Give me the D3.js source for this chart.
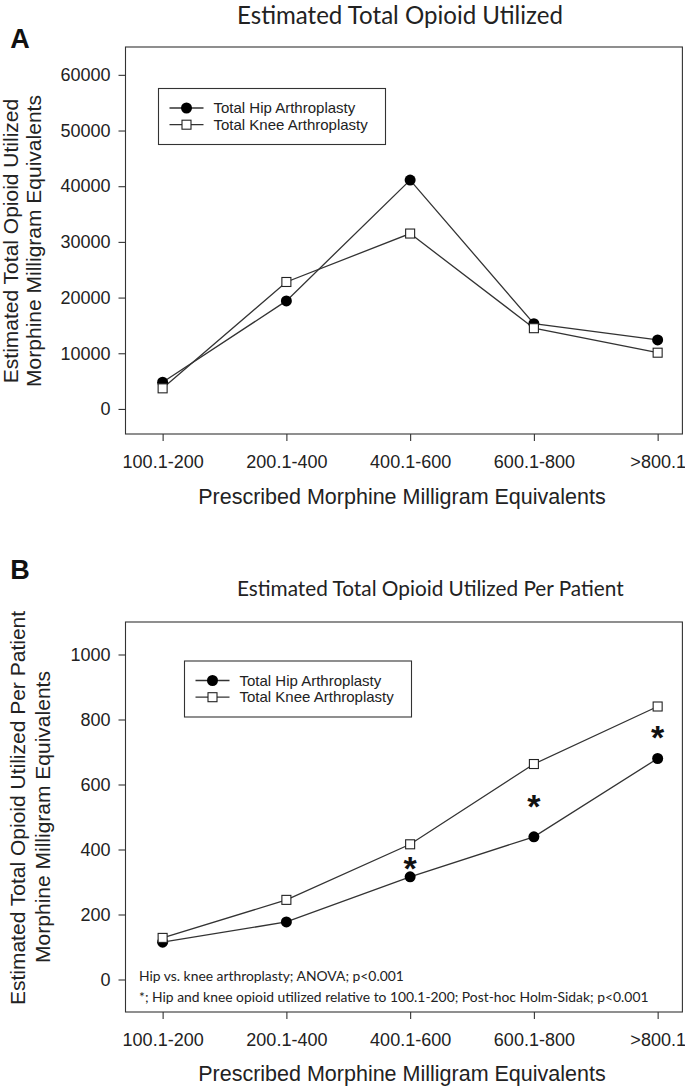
<!DOCTYPE html>
<html>
<head>
<meta charset="utf-8">
<script src="https://cdn.jsdelivr.net/npm/d3@7"></script>
<style>
  html, body { margin: 0; padding: 0; background: #fff; }
  svg { display: block; }
</style>
</head>
<body>
<svg id="chart" width="685" height="1086"></svg>
<script>
// ---------------- data ----------------
const categories = ["100.1-200", "200.1-400", "400.1-600", "600.1-800", ">800.1"];
const seriesNames = ["Total Hip Arthroplasty", "Total Knee Arthroplasty"];

const hipTotal  = [4800, 19400, 41100, 15300, 12400];
const kneeTotal = [3700, 22800, 31500, 14500, 10100];
const totalTicks = [0, 10000, 20000, 30000, 40000, 50000, 60000];

const hipPerPatient  = [115, 177, 316, 439, 680];
const kneePerPatient = [128, 245, 416, 663, 840];
const perPatientTicks = [0, 200, 400, 600, 800, 1000];
const asteriskLevels = [null, null, 362, 552, 765];

const panelTitles = ["Estimated Total Opioid Utilized", "Estimated Total Opioid Utilized Per Patient"];
const yTitlesA = ["Estimated Total Opioid Utilized", "Morphine Milligram Equivalents"];
const yTitlesB = ["Estimated Total Opioid Utilized Per Patient", "Morphine Milligram Equivalents"];
const xTitle = "Prescribed Morphine Milligram Equivalents";
const notes = ["Hip vs. knee arthroplasty; ANOVA; p<0.001",
               "*; Hip and knee opioid utilized relative to 100.1-200; Post-hoc Holm-Sidak; p<0.001"];

// ---------------- drawing ----------------
const svg = d3.select("#chart");
const SANS = "'Liberation Sans', Arial, sans-serif";
const CAL = "Lato, 'Open Sans', sans-serif";
const INK = "#222";
const LINE = "#333";

function fitFont(sel, target, start) {
  sel.attr("font-size", start);
  const w = sel.node().getComputedTextLength();
  sel.attr("font-size", start * target / w);
}

function drawPanel(cfg) {
  const g = svg.append("g");
  const left = 125.5, right = 682.4;
  const x = d3.scaleLinear().domain([-0.3, 4.2]).range([left, right]);
  const y = d3.scaleLinear().domain(cfg.yDomain).range([cfg.bottom, cfg.top]);

  // frame
  g.append("rect").attr("x", left).attr("y", cfg.top)
    .attr("width", right - left).attr("height", cfg.bottom - cfg.top)
    .attr("fill", "none").attr("stroke", LINE).attr("stroke-width", 1.1);

  // y axis
  const ya = g.append("g").attr("transform", `translate(${left},0)`)
    .call(d3.axisLeft(y).tickValues(cfg.yTicks).tickSize(7).tickPadding(8).tickFormat(d3.format("d")));
  ya.select(".domain").remove();
  ya.selectAll("line").attr("stroke", LINE).attr("stroke-width", 1.1);
  ya.selectAll("text").attr("font-family", SANS).attr("font-size", 18).attr("fill", INK);

  // x axis
  const xa = g.append("g").attr("transform", `translate(0,${cfg.bottom})`)
    .call(d3.axisBottom(x).tickValues(d3.range(categories.length)).tickSize(7).tickPadding(14)
      .tickFormat(i => categories[i]));
  xa.select(".domain").remove();
  xa.selectAll("line").attr("stroke", LINE).attr("stroke-width", 1.1);
  xa.selectAll("text").attr("font-family", SANS).attr("font-size", 18).attr("fill", INK);

  // x title
  g.append("text").attr("x", (left + right) / 2 - 2).attr("y", cfg.bottom + cfg.xTitleOff)
    .attr("dy", "0.36em").attr("text-anchor", "middle")
    .attr("font-family", SANS).attr("font-size", 21.5).attr("fill", INK).text(xTitle);

  // y titles (two lines)
  cfg.yTitles.forEach((t, i) => {
    g.append("text")
      .attr("transform", `translate(${cfg.yTitleX[i]},${cfg.yTitleY[i]}) rotate(-90)`)
      .attr("text-anchor", "middle")
      .attr("font-family", SANS).attr("font-size", 21).attr("fill", INK).text(t);
  });

  // panel title
  const tt = g.append("text").attr("x", 237).attr("y", cfg.titleY).attr("dy", "0.35em")
    .attr("font-family", CAL).attr("fill", INK).text(cfg.title);
  fitFont(tt, cfg.titleWidth, 22);

  // panel letter
  g.append("text").attr("x", 20).attr("y", cfg.letterY).attr("dy", "0.36em")
    .attr("text-anchor", "middle").attr("font-family", SANS).attr("font-weight", "bold")
    .attr("font-size", 27).attr("fill", "#111").text(cfg.letter);

  // lines
  const line = d3.line().x((d, i) => x(i)).y(d => y(d));
  [cfg.hip, cfg.knee].forEach(vals => {
    g.append("path").datum(vals).attr("d", line)
      .attr("fill", "none").attr("stroke", LINE).attr("stroke-width", 1.3);
  });
  // hip markers
  g.selectAll(null).data(cfg.hip).join("circle")
    .attr("cx", (d, i) => x(i)).attr("cy", d => y(d)).attr("r", 5.5).attr("fill", "#000");
  // knee markers
  const s = 9;
  g.selectAll(null).data(cfg.knee).join("rect")
    .attr("x", (d, i) => x(i) - s / 2).attr("y", d => y(d) - s / 2)
    .attr("width", s).attr("height", s)
    .attr("fill", "#fff").attr("stroke", "#222").attr("stroke-width", 1.1);

  // legend
  const lg = g.append("g").attr("transform", `translate(${cfg.legend[0]},${cfg.legend[1]})`);
  lg.append("rect").attr("width", 227).attr("height", 56)
    .attr("fill", "#fff").attr("stroke", LINE).attr("stroke-width", 1.1);
  seriesNames.forEach((name, i) => {
    const ry = 19.5 + i * 16.7;
    lg.append("line").attr("x1", 11).attr("x2", 45).attr("y1", ry).attr("y2", ry)
      .attr("stroke", LINE).attr("stroke-width", 1.3);
    if (i === 0) {
      lg.append("circle").attr("cx", 28).attr("cy", ry).attr("r", 5.5).attr("fill", "#000");
    } else {
      lg.append("rect").attr("x", 28 - s / 2).attr("y", ry - s / 2).attr("width", s).attr("height", s)
        .attr("fill", "#fff").attr("stroke", "#222").attr("stroke-width", 1.1);
    }
    lg.append("text").attr("x", 55).attr("y", ry).attr("dy", "0.35em")
      .attr("font-family", SANS).attr("font-size", 15).attr("fill", INK).text(name);
  });

  return { g, x, y };
}

// Panel A
drawPanel({
  top: 47, bottom: 434, yDomain: [-4500, 65000], yTicks: totalTicks,
  hip: hipTotal, knee: kneeTotal, legend: [158.5, 88.5],
  title: panelTitles[0], titleY: 16, titleWidth: 326,
  letter: "A", letterY: 38, xTitleOff: 62,
  yTitles: yTitlesA, yTitleX: [18, 41], yTitleY: [241, 241]
});

// Panel B
const pB = drawPanel({
  top: 622, bottom: 1012, yDomain: [-100, 1100], yTicks: perPatientTicks,
  hip: hipPerPatient, knee: kneePerPatient, legend: [184.5, 661],
  title: panelTitles[1], titleY: 589, titleWidth: 387,
  letter: "B", letterY: 569, xTitleOff: 61,
  yTitles: yTitlesB, yTitleX: [25, 50], yTitleY: [808, 817]
});

// asterisks
pB.g.selectAll(null).data(asteriskLevels.map((v, i) => ({ v, i })).filter(d => d.v !== null))
  .join("text")
  .attr("x", d => pB.x(d.i)).attr("y", d => pB.y(d.v) + 18)
  .attr("text-anchor", "middle").attr("font-family", SANS).attr("font-weight", "bold")
  .attr("font-size", 34).attr("fill", "#111").text("*");

// statistical notes
const n1 = pB.g.append("text").attr("x", 139).attr("y", 976).attr("dy", "0.35em")
  .attr("font-family", CAL).attr("fill", INK).text(notes[0]);
const n2 = pB.g.append("text").attr("x", 139).attr("y", 997).attr("dy", "0.35em")
  .attr("font-family", CAL).attr("fill", INK).text(notes[1]);
fitFont(n2, 510, 14);
n1.attr("font-size", n2.attr("font-size"));
</script>
</body>
</html>
